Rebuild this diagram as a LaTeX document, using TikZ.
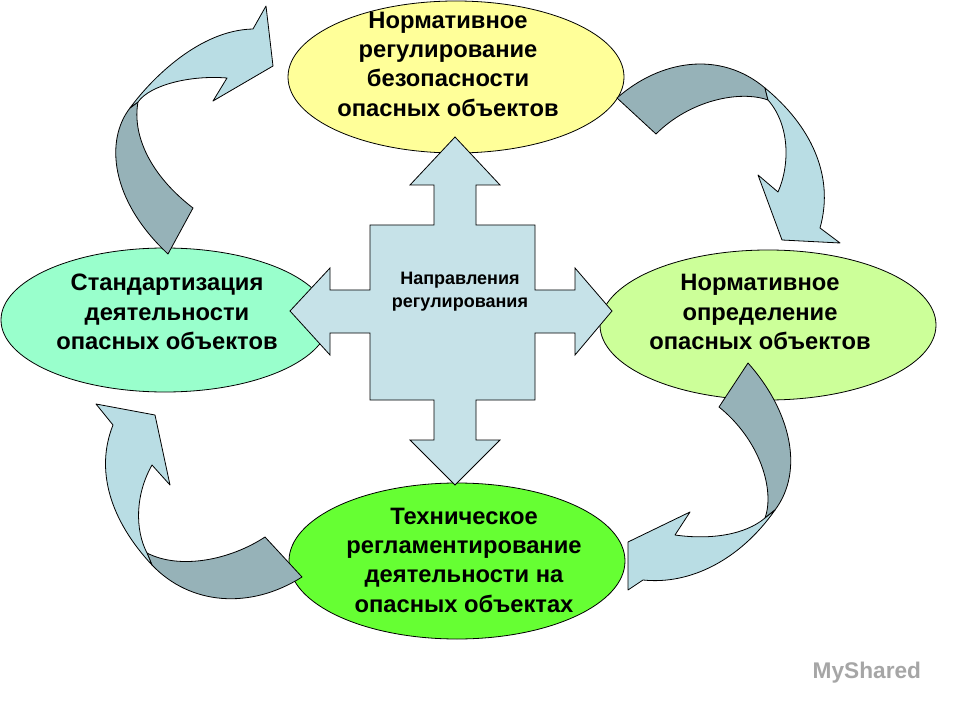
\documentclass[tikz,border=0pt]{standalone}
\usepackage{fontspec}
\setmainfont{Liberation Sans}
\begin{document}
\begin{tikzpicture}[x=0.75pt,y=-0.75pt,
  lt/.style={font=\bfseries\fontsize{17.8}{22}\selectfont,align=center},
  lb/.style={fill=arrlight,draw=black,line width=0.6pt,line join=round},
  gb/.style={fill=arrgray,draw=black,line width=0.6pt,line join=round}]
\definecolor{arrlight}{RGB}{185,221,228}
\definecolor{arrgray}{RGB}{150,178,184}
\definecolor{crossc}{RGB}{198,226,232}
\useasboundingbox (0,0) rectangle (960,720);
\fill[white] (0,0) rectangle (960,720);
% ellipses
\filldraw[fill={rgb,255:red,255;green,255;blue,153},line width=0.6pt] (456,77) ellipse [x radius=168,y radius=76];
\filldraw[fill={rgb,255:red,153;green,255;blue,204},line width=0.6pt] (165,320) ellipse [x radius=164,y radius=72];
\filldraw[fill={rgb,255:red,204;green,255;blue,153},line width=0.6pt] (768,325) ellipse [x radius=168,y radius=75];
\filldraw[fill={rgb,255:red,102;green,255;blue,51},line width=0.6pt] (457,561) ellipse [x radius=168,y radius=78];
\node[lt] (t) at (448,64) {Нормативное\\регулирование\\безопасности\\опасных объектов};
\node[lt] (l) at (167,312) {Стандартизация\\деятельности\\опасных объектов};
\node[lt] (r) at (760,312) {Нормативное\\определение\\опасных объектов};
\node[lt] (b) at (464,560) {Техническое\\регламентирование\\деятельности на\\опасных объектах};
% cross
\filldraw[fill=crossc,line width=0.6pt,line join=miter]
 (455,137) -- (500,185) -- (476,185) -- (476,225) -- (535,225) -- (535,290) -- (575,290) -- (575,268) -- (612,311)
 -- (575,355) -- (575,333) -- (535,333) -- (535,400) -- (476,400) -- (476,440) -- (500,440) -- (455,485)
 -- (410,440) -- (434,440) -- (434,400) -- (370,400) -- (370,333) -- (330,333) -- (330,355) -- (290,311)
 -- (330,268) -- (330,290) -- (370,290) -- (370,225) -- (434,225) -- (434,185) -- (410,185) -- cycle;
\node[font=\bfseries\fontsize{13.5}{17}\selectfont,align=center] (c) at (460,292) {Направления\\регулирования};
% arrow 1 (top-left)
\path[gb] (168,254) .. controls (110,200) and (105,140) .. (130,108) -- (138,102) .. controls (132,135) and (150,175) .. (193,208) -- cycle;
\path[lb] (130,108) .. controls (152,78) and (200,30) .. (253,29) -- (266,6) -- (273,66) -- (213,101) -- (227,78) .. controls (190,75) and (150,85) .. (138,102) -- cycle;
% arrow 2 (top-right)
\path[gb] (617,98) .. controls (660,60) and (720,50) .. (765,88) -- (768,100) .. controls (740,90) and (690,100) .. (656,134) -- cycle;
\path[lb] (765,88) .. controls (810,125) and (835,175) .. (820,228) -- (840,243) -- (782,240) -- (758,175) -- (778,192) .. controls (790,165) and (790,125) .. (768,100) -- cycle;
% arrow 3 (bottom-right)
\path[gb] (748,363) .. controls (790,410) and (805,470) .. (775,510) -- (765,518) .. controls (775,490) and (760,440) .. (719,407) -- cycle;
\path[lb] (775,510) .. controls (740,560) and (690,585) .. (643,580) -- (628,590) -- (628,542) -- (690,512) -- (675,535) .. controls (710,540) and (745,535) .. (765,518) -- cycle;
% arrow 4 (bottom-left)
\path[gb] (302,577) .. controls (250,610) and (190,605) .. (152,565) -- (147,553) .. controls (180,570) and (230,560) .. (265,537) -- cycle;
\path[lb] (152,565) .. controls (110,520) and (95,470) .. (113,425) -- (96,404) -- (155,415) -- (170,485) -- (152,465) .. controls (135,495) and (135,530) .. (147,553) -- cycle;
% watermark
\node[text=black!35,font=\bfseries\fontsize{17}{20}\selectfont,anchor=west] (wm) at (808,673) {MyShared};
\end{tikzpicture}
\end{document}
